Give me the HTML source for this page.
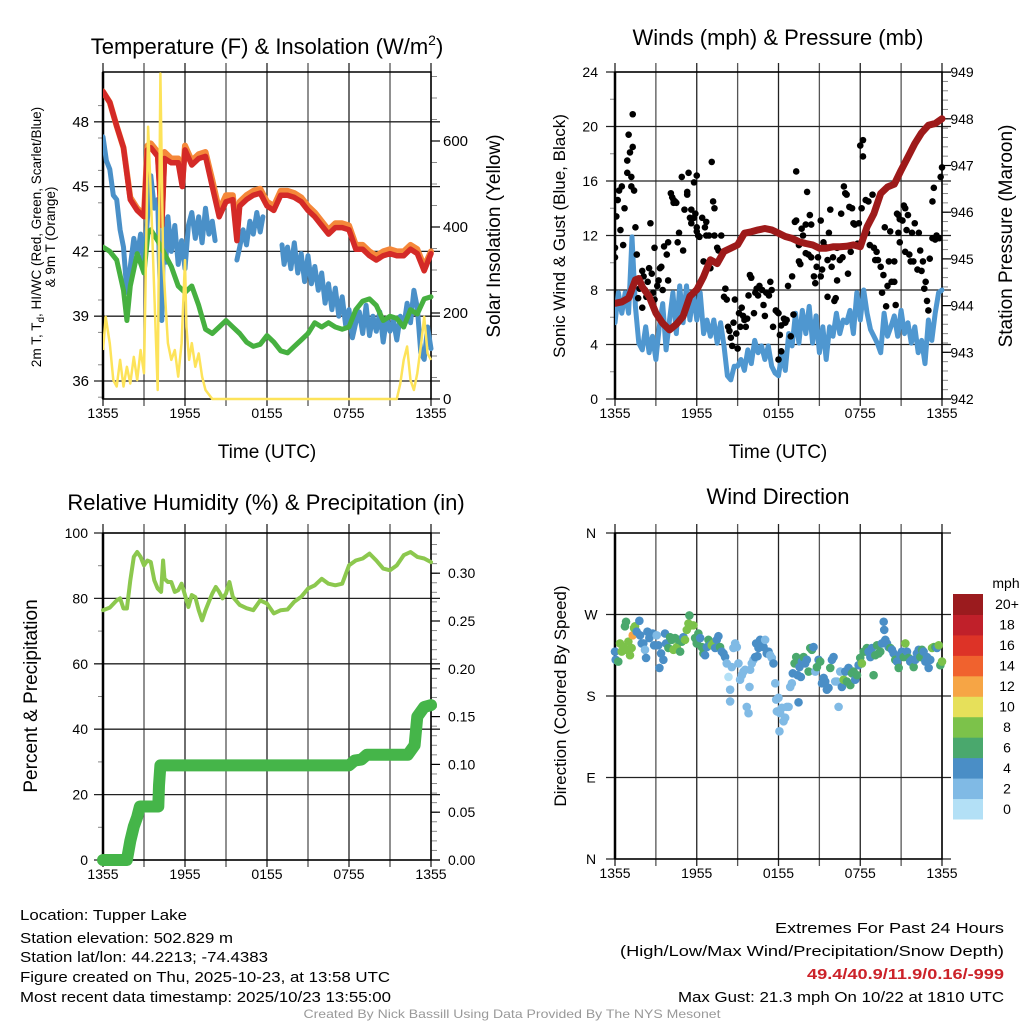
<!DOCTYPE html>
<html><head><meta charset="utf-8"><style>
html,body{margin:0;padding:0;background:#fff;}
svg{display:block;font-family:"Liberation Sans",Arial,sans-serif;}
</style></head><body>
<svg id="chart" width="1024" height="1024" viewBox="0 0 1024 1024" xmlns="http://www.w3.org/2000/svg"></svg>
<script>
// ---------- Panel 1 data: temperature & insolation ----------
const tRed=[0,0.5,1,1.5,2,2.5,3,3.25,3.5,4,4.3,4.5,5,5.5,5.8,6,6.5,7,7.5,8,8.5,9,9.5,9.8,10,10.5,11,11.5,12,12.5,13,13.5,14,14.5,15,15.5,16,16.5,17,17.5,18,18.5,19,19.5,20,20.5,21,21.5,22,22.5,23,23.5,24];
const temp2m=[49.4,48.9,47.8,46.8,44.4,43.9,43.6,46.7,46.8,46.4,43.2,46.3,46.1,46.1,45.0,46.7,46.0,46.3,46.4,45.0,43.6,44.3,44.4,42.5,44.1,44.4,44.6,44.7,44.1,43.9,44.6,44.6,44.5,44.3,43.9,43.6,43.2,42.8,43.1,43.1,43.0,42.1,42.1,41.8,41.6,41.8,41.9,41.8,41.8,42.1,41.9,41.1,41.9];
const temp9m=[49.4,48.9,47.8,46.8,44.5,44.0,43.7,46.9,47.0,46.6,43.4,46.6,46.3,46.3,45.2,46.9,46.2,46.5,46.6,45.3,43.9,44.6,44.6,42.8,44.3,44.6,44.8,44.9,44.3,44.1,44.8,44.8,44.7,44.5,44.1,43.8,43.4,43.0,43.3,43.3,43.2,42.3,42.3,42.0,41.8,42.0,42.1,42.0,42.0,42.3,42.1,41.3,42.0];
const tChill=[0,0.25,0.5,0.75,1,1.25,1.5,1.75,2,2.25,2.5,2.75,3,3.25,3.5,3.75,4,4.15,4.3,4.45,4.6,4.75,5,5.25,5.5,5.75,6,6.25,6.5,6.75,7,7.25,7.5,7.75,8,8.2,8.3,9.8,10,10.25,10.5,10.75,11,11.25,11.5,11.7,11.8,13.1,13.25,13.5,13.75,14,14.25,14.5,14.75,15,15.25,15.5,15.75,16,16.25,16.5,16.75,17,17.25,17.5,17.75,18,18.25,18.5,18.75,19,19.25,19.5,19.75,20,20.25,20.5,20.75,21,21.25,21.5,21.75,22,22.25,22.5,22.75,23,23.25,23.5,23.75,24];
const windChill=[47.3,46.2,45.8,44.6,44.4,43.0,42.2,40.1,41.3,42.6,41.8,42.8,41.3,43.5,45.5,44.0,44.4,41.0,38.8,43.5,41.5,43.6,42.0,43.2,41.4,42.5,41.2,43.2,43.8,42.6,43.6,42.4,44.0,42.8,43.4,42.5,null,41.6,42.2,43.0,42.3,43.4,42.8,43.8,42.9,43.6,null,42.3,41.4,42.2,41.2,42.4,41.0,41.9,40.6,41.8,40.5,41.3,40.2,41.0,39.6,40.5,39.3,40.3,39.0,39.9,38.6,39.3,38.0,38.7,39.2,38.2,39.5,38.1,39.0,38.3,39.2,37.8,38.9,38.3,38.8,37.9,39.0,38.5,39.6,38.7,40.2,39.4,37.3,37.0,38.5,37.5];
const tDew=[0,0.5,1,1.5,1.75,2,2.5,3,3.3,3.5,4,4.5,5,5.5,6,6.5,7,7.5,8,8.5,9,9.5,10,10.5,11,11.5,12,12.5,13,13.5,14,14.5,15,15.5,16,16.5,17,17.5,18,18.5,19,19.5,20,20.5,21,21.5,22,22.5,23,23.5,24];
const dewpoint=[42.2,42.0,41.6,40.2,38.8,40.4,41.9,41.0,42.9,43.0,42.5,41.9,41.3,40.4,40.1,40.4,39.5,38.4,38.2,38.5,38.8,38.5,38.2,37.8,37.6,37.7,38.1,37.8,37.4,37.3,37.6,37.9,38.2,38.7,38.5,38.7,38.5,38.4,38.5,39.3,39.7,39.8,39.5,38.8,39.0,38.9,38.5,39.3,39.1,39.8,39.9];
const tSolar=[0,0.2,0.5,0.75,1,1.25,1.5,1.75,2,2.25,2.5,2.75,3,3.1,3.3,3.5,3.75,4,4.2,4.4,4.6,4.75,5,5.25,5.5,5.75,6,6.1,6.3,6.5,6.75,7,7.25,7.5,8,12,16,21.5,21.75,22,22.25,22.5,22.75,23,23.25,23.5,23.75,24];
const solar=[114,191,129,44,29,91,29,75,36,98,44,114,60,246,633,478,246,21,757,323,207,130,91,114,52,130,323,168,91,130,75,106,52,21,0,0,0,0,36,91,122,44,21,60,122,191,106,91];
const tempTicks=[36,39,42,45,48];
const solarTicks=[0,200,400,600];
const timeTickLabels=["1355","1955","0155","0755","1355"];

// ---------- Panel 2 data: winds & pressure ----------
const tPres=[0,0.5,1,1.5,1.75,2,2.5,3,3.5,4,4.5,5,5.5,6,6.5,7,7.5,8,8.5,9,9.5,10,10.5,11,11.5,12,12.5,13,13.5,14,14.5,15,15.5,16,16.5,17,17.5,18,18.5,19,19.5,20,20.5,21,21.5,22,22.5,23,23.5,24];
const pressure=[944.05,944.08,944.16,944.55,944.58,944.4,944.2,943.84,943.62,943.48,943.6,943.77,944.2,944.34,944.62,944.98,944.9,945.16,945.23,945.3,945.55,945.58,945.62,945.65,945.62,945.55,945.48,945.44,945.37,945.33,945.3,945.23,945.23,945.26,945.26,945.27,945.3,945.26,945.69,945.97,946.4,946.54,946.6,946.9,947.18,947.47,947.7,947.86,947.9,948.0];
const sonicWind=[5.6,7.8,6.3,7.8,6.3,11.9,6.8,4.1,3.6,5.3,3.4,4.6,2.9,5.3,7.0,3.6,5.8,7.8,4.8,8.3,5.6,8.3,5.8,7.8,5.8,7.8,4.8,5.8,4.6,5.8,4.1,5.6,3.9,1.7,1.4,2.4,2.4,2.9,2.1,3.6,2.6,4.3,3.4,3.9,2.9,3.9,2.4,1.9,1.7,3.4,2.1,4.8,3.9,6.3,4.1,6.5,4.8,6.8,4.1,6.1,3.4,5.3,2.9,5.3,4.6,6.3,4.8,5.8,5.6,6.5,4.8,7.8,5.8,8.0,6.3,5.1,4.6,4.1,3.4,6.3,4.6,5.3,6.1,4.6,6.5,4.8,5.6,4.1,5.3,3.4,4.3,2.6,5.8,4.3,6.3,7.8,8.0];
const sonicStepHours=0.25;
const gustHours=[0,0,0.1,0.2,0.3,0.4,0.5,0.6,0.7,0.9,0.9,1.0,1.1,1.2,1.2,1.3,1.3,1.4,1.5,1.6,1.7,1.8,2.0,2.0,2.1,2.2,2.3,2.4,2.5,2.6,2.7,2.8,2.9,2.9,3.1,3.2,3.3,3.4,3.5,3.6,3.8,3.9,3.9,4.1,4.2,4.3,4.3,4.4,4.5,4.6,4.7,4.9,5.0,5.1,5.3,5.3,5.4,5.5,5.6,5.6,5.8,5.8,5.9,6.0,6.0,6.0,6.1,6.2,6.4,6.5,6.6,6.7,6.7,6.9,7.0,7.1,7.2,7.3,7.3,7.5,7.6,7.7,7.8,8.0,8.1,8.2,8.3,8.4,8.5,8.6,8.7,8.8,8.9,9.0,9.1,9.2,9.3,9.4,9.5,9.6,9.7,9.8,9.9,10.0,10.2,10.3,10.4,10.5,10.6,10.8,10.9,11.0,11.1,11.3,11.4,11.5,11.6,11.8,11.9,12.0,12.0,12.1,12.2,12.2,12.4,12.5,12.6,12.7,12.9,13.0,13.1,13.2,13.3,13.3,13.5,13.5,13.6,13.7,13.8,14.0,14.0,14.1,14.2,14.3,14.4,14.4,14.6,14.7,14.8,14.9,15.1,15.1,15.2,15.3,15.4,15.6,15.6,15.7,15.8,15.9,16.0,16.1,16.2,16.3,16.3,16.5,16.6,16.7,16.8,16.9,17.0,17.1,17.2,17.3,17.4,17.5,17.6,17.8,17.9,18.0,18.1,18.2,18.2,18.4,18.5,18.6,18.7,18.9,19.0,19.1,19.2,19.3,19.5,19.6,19.7,19.8,19.9,20.0,20.1,20.2,20.3,20.5,20.5,20.6,20.7,20.8,20.8,20.9,20.9,21.1,21.2,21.3,21.3,21.4,21.5,21.6,21.7,21.8,21.9,22.0,22.2,22.3,22.4,22.5,22.6,22.7,22.8,22.9,23.0,23.1,23.3,23.3,23.4,23.5,23.6,23.8,23.9,24];
const gustSpeed=[10.4,11.1,13.4,14.6,15.3,12.4,15.6,11.3,14.0,16.6,17.5,19.4,18.1,16.3,15.6,20.9,18.5,15.3,12.6,10.6,7.4,8.1,9.4,6.7,9.0,8.0,7.5,8.6,9.6,12.9,9.2,7.8,7.3,11.1,8.3,8.7,9.6,9.7,8.0,11.2,10.6,11.5,8.7,15.1,14.8,14.6,14.4,14.5,14.4,11.5,12.2,16.3,10.9,13.9,15.0,15.2,16.6,13.3,13.9,12.9,15.9,13.3,13.6,12.6,12.3,16.4,12.0,11.9,13.3,10.1,12.6,13.0,12.0,12.0,9.6,17.4,14.5,12.0,14.0,11.1,10.9,10.3,12.0,7.5,8.1,7.3,5.3,5.0,4.5,3.9,5.6,7.3,4.8,3.7,6.3,5.3,6.7,6.1,5.8,5.3,5.9,7.6,9.1,8.9,6.3,7.8,8.1,7.6,8.3,8.0,6.9,6.1,7.8,7.6,8.6,8.0,5.3,6.5,6.4,2.9,6.3,4.7,5.4,3.5,5.9,5.6,5.8,8.3,4.6,9.0,6.2,13.0,16.7,13.1,11.3,10.1,9.9,12.5,12.0,10.7,12.8,15.2,10.6,13.5,12.8,10.4,9.0,8.5,9.7,10.4,9.0,13.1,9.5,11.5,11.2,10.2,7.5,12.2,13.9,9.7,10.4,7.2,7.4,8.7,11.1,10.2,13.6,10.4,15.6,15.1,15.0,9.2,14.1,10.8,14.0,12.9,12.8,11.4,12.9,18.6,14.0,19.0,17.8,14.6,12.2,14.5,11.3,15.0,11.1,10.2,10.8,10.2,9.7,7.8,9.1,12.6,6.8,8.3,10.1,12.3,8.6,10.1,8.6,6.9,13.6,12.2,13.5,13.2,11.5,13.1,14.2,14.0,10.8,12.4,13.5,10.6,10.1,12.2,10.1,12.9,9.5,12.2,10.9,9.4,10.1,8.1,8.6,7.2,6.5,10.3,11.8,14.5,15.5,11.7,12.0,11.8,16.3,17.0];
const windTicks=[0,4,8,12,16,20,24];
const presTicks=[942,943,944,945,946,947,948,949];

// ---------- Panel 3 data: humidity & precipitation ----------
const tRH=[0,0.5,1,1.25,1.5,1.75,2,2.25,2.5,2.75,3,3.25,3.5,3.75,4,4.25,4.4,4.5,4.75,5,5.25,5.5,5.75,6,6.25,6.5,6.75,7,7.25,7.5,7.75,8,8.25,8.5,8.75,9,9.25,9.5,10,10.5,11,11.5,12,12.5,13,13.5,14,14.5,15,15.5,16,16.5,17,17.5,18,18.5,19,19.5,20,20.5,21,21.5,22,22.5,23,23.5,24];
const relHum=[76.4,77.2,79.4,80,76.9,76.9,85.5,92.7,94.2,92.7,90.1,91.6,91.1,85.5,83,82,91.6,86,85,85,82,82.5,84.5,81,77.4,81,80.4,76.4,73.3,76.4,79,81.5,83.5,82,80,81.5,85,80.5,78,77,76.4,79.4,78.4,75.4,76.4,76.6,79,80.5,83,84,86,84.5,84,84.5,90.1,91.6,92.2,93.7,91.6,89.1,88.6,90.1,93.2,94.2,92.7,92.2,91.1];
const tPrecip=[0,1.75,2.0,2.25,2.5,2.7,4.05,4.1,4.2,18.0,18.4,18.9,19.3,19.8,22.3,22.8,23.0,23.5,24];
const precip=[0,0,0.02,0.035,0.045,0.056,0.056,0.078,0.099,0.099,0.104,0.105,0.11,0.11,0.11,0.12,0.15,0.16,0.162];
const rhTicks=[0,20,40,60,80,100];
const precipTicks=["0.00","0.05","0.10","0.15","0.20","0.25","0.30"];

// ---------- Panel 4 data: wind direction ----------
const wdHours=[0,0.05,0.24,0.37,0.49,0.61,0.73,0.81,0.86,0.98,1.1,1.22,1.3,1.4,1.47,1.59,1.79,1.84,1.96,2.08,2.2,2.28,2.38,2.52,2.62,2.77,2.87,3.06,3.18,3.26,3.38,3.55,3.67,3.75,3.92,4.04,4.16,4.29,4.41,4.53,4.65,4.78,4.9,5.02,5.14,5.27,5.39,5.46,5.63,5.76,5.88,6.0,6.12,6.25,6.37,6.49,6.61,6.74,6.86,6.98,7.1,7.22,7.35,7.47,7.59,7.71,7.84,7.96,8.08,8.2,8.33,8.45,8.45,8.57,8.69,8.82,8.94,9.06,9.18,9.31,9.43,9.55,9.67,9.8,9.87,9.92,10.04,10.16,10.29,10.36,10.46,10.53,10.65,10.78,10.9,11.02,11.14,11.27,11.39,11.51,11.63,11.76,11.83,11.88,12.0,12.07,12.12,12.25,12.37,12.49,12.61,12.74,12.86,12.98,13.05,13.18,13.3,13.4,13.47,13.54,13.64,13.72,13.84,13.96,14.08,14.21,14.33,14.45,14.57,14.7,14.82,14.94,15.06,15.19,15.31,15.43,15.55,15.67,15.8,15.92,16.04,16.16,16.29,16.41,16.53,16.65,16.78,16.9,17.02,17.14,17.27,17.39,17.51,17.63,17.76,17.88,18.0,18.12,18.25,18.37,18.49,18.61,18.74,18.86,18.98,19.1,19.23,19.35,19.47,19.59,19.72,19.76,19.84,19.96,20.08,20.21,20.33,20.45,20.57,20.7,20.82,20.94,21.06,21.19,21.31,21.43,21.55,21.67,21.8,21.92,22.04,22.16,22.29,22.41,22.53,22.65,22.78,22.9,23.02,23.14,23.27,23.39,23.51,23.63,23.76,23.88,24.0];
const wdDeg=[229,220,218,238,229,234,257,262,231,240,225,233,247,255,257,251,263,247,238,238,231,222,251,244,249,249,236,247,236,211,227,220,249,238,233,245,242,231,244,234,242,229,240,245,242,253,260,269,258,258,244,238,249,244,234,227,225,234,242,236,236,238,233,242,246,234,229,227,223,216,201,187,174,212,233,238,234,216,198,203,207,209,168,161,190,209,216,220,223,238,224,233,242,236,234,242,227,229,225,222,216,194,176,163,178,141,161,167,152,156,168,168,190,194,205,216,223,203,173,212,201,218,223,216,220,207,233,231,234,207,212,220,218,194,200,196,187,189,211,220,223,196,196,168,207,190,198,207,196,211,192,205,207,198,203,214,222,216,229,229,233,229,223,233,203,225,236,227,229,238,262,253,242,238,234,233,231,227,220,218,211,225,229,223,238,229,222,218,220,212,220,227,231,223,231,229,218,223,211,220,233,234,234,233,236,214,218];
const wdSpeed=[4.5,4.5,6.5,8.5,8.5,8.5,6.5,6.5,8.5,8.5,8.5,8.5,12.5,8.5,8.5,4.5,4.5,4.5,4.5,4.5,2.5,4.5,4.5,4.5,4.5,4.5,4.5,2.5,4.5,4.5,4.5,4.5,4.5,4.5,6.5,6.5,6.5,8.5,6.5,8.5,6.5,6.5,6.5,4.5,8.5,8.5,8.5,6.5,8.5,8.5,6.5,6.5,6.5,4.5,6.5,6.5,4.5,4.5,6.5,4.5,8.5,8.5,4.5,4.5,4.5,6.5,4.5,4.5,4.5,2.5,0.8,2.5,2.5,2.5,2.5,2.5,2.5,2.5,2.5,2.5,2.5,2.5,2.5,2.5,2.5,2.5,2.5,2.5,4.5,4.5,4.5,4.5,4.5,4.5,4.5,2.5,4.5,4.5,2.5,2.5,4.5,2.5,2.5,2.5,2.5,2.5,2.5,2.5,2.5,2.5,2.5,2.5,2.5,2.5,4.5,6.5,6.5,4.5,4.5,4.5,4.5,4.5,6.5,4.5,4.5,6.5,6.5,6.5,4.5,2.5,6.5,4.5,6.5,4.5,4.5,4.5,4.5,4.5,6.5,4.5,4.5,2.5,2.5,2.5,2.5,4.5,8.5,4.5,6.5,4.5,6.5,6.5,6.5,4.5,6.5,4.5,6.5,8.5,6.5,6.5,6.5,4.5,4.5,4.5,6.5,6.5,6.5,6.5,6.5,4.5,4.5,4.5,4.5,4.5,4.5,6.5,4.5,4.5,6.5,4.5,6.5,4.5,4.5,6.5,8.5,4.5,6.5,4.5,4.5,6.5,4.5,4.5,4.5,6.5,6.5,4.5,4.5,4.5,4.5,4.5,8.5,8.5,6.5,4.5,8.5,6.5,8.5];
const dirTicks=[0,90,180,270,360];
const dirLabels=["N","E","S","W","N"];
const cbarLabels=["0","2","4","6","8","10","12","14","16","18","20+"];
const cbarColors=["#b3e0f6","#80bae5","#4a8ec6","#4aa86d","#7cc24a","#e6e05a","#f6a545","#f0622e","#dd3327","#c0202a","#9b1b1e"];

// ---------- helpers ----------
const NS="http://www.w3.org/2000/svg";
const svg=document.getElementById('chart');
function mk(tag,attrs,parent){const e=document.createElementNS(NS,tag);for(const k in attrs)e.setAttribute(k,attrs[k]);(parent||svg).appendChild(e);return e;}
function txt(s,attrs,parent){const e=mk('text',attrs,parent);e.textContent=s;return e;}
function pathD(ts,vs,xf,yf){let d='',pen=false;for(let i=0;i<ts.length;i++){if(vs[i]===null||vs[i]===undefined){pen=false;continue;}d+=(pen?'L':'M')+xf(ts[i]).toFixed(1)+' '+yf(vs[i]).toFixed(1);pen=true;}return d;}
function xScale(x0,x1){return h=>x0+h*(x1-x0)/24;}
function gridPanel(name,x0,x1,y0,y1,hY,minorL,minorR){
  const g=mk('g',{},svg);
  
  
  for(let i=0;i<=8;i++){const x=x0+i*(x1-x0)/8;
    const v=mk('line',{x1:x,y1:y0-9,x2:x,y2:y1+7,stroke:(i%2?'#555':'#222'),'stroke-width':1.3},g);
    
    }
  hY.forEach(y=>{const h=mk('line',{x1:x0-9,y1:y,x2:x1+9,y2:y,stroke:'#222','stroke-width':1.3},g);
    
    });
  minorL.forEach(y=>{const t=mk('line',{x1:x0-5,y1:y,x2:x0,y2:y,stroke:'#888','stroke-width':1},g);
    
    });
  minorR.forEach(y=>{const t=mk('line',{x1:x1,y1:y,x2:x1+6,y2:y,stroke:'#888','stroke-width':1},g);
    
    });
  const f=mk('rect',{x:x0,y:y0,width:x1-x0,height:y1-y0,fill:'none',stroke:'#000','stroke-width':1.5},g);
  
  
  const lb=mk('line',{x1:x0,y1:y0,x2:x0,y2:y1,stroke:'#000','stroke-width':2.5},g);
  
  
  for(let i=0;i<5;i++){const x=x0+i*(x1-x0)/4;
    const t=txt(timeTickLabels[i],{x:x,y:y1+19,'font-size':14,'text-anchor':'middle',fill:'#000'},g);
    
    }
  return g;
}
function title(s,x,y,size,name){const t=txt(s,{x:x,y:y,'font-size':size,'text-anchor':'middle',fill:'#000'});
  
  return t;}
function vtitle(s,x,y,size,name){const t=txt(s,{x:x,y:y,'font-size':size,'text-anchor':'middle',fill:'#000',transform:'rotate(-90 '+x+' '+y+')'});
  
  return t;}
function speedColor(s){let i=Math.floor(s/2);if(i>10)i=10;if(i<0)i=0;return cbarColors[i];}

// ---------- Panel 1 ----------
(function(){
  const x0=103,x1=431,y0=72,y1=399;
  const xs=xScale(x0,x1);
  const yT=v=>381-(v-36)*21.6;
  const yS=w=>399-w*0.43;
  const minorL=[],minorR=[];
  for(let v=35.25;v<50;v+=1.5)minorL.push(yT(v));
  for(let w=50;w<760;w+=50)minorR.push(yS(w));
  gridPanel('temperature-panel',x0,x1,y0,y1,tempTicks.map(yT),minorL,minorR);
  tempTicks.forEach(v=>{const t=txt(String(v),{x:89,y:yT(v)+5,'font-size':15,'text-anchor':'end'});
    
    });
  solarTicks.forEach(w=>{const k=mk('line',{x1:x1,y1:yS(w),x2:x1+9,y2:yS(w),stroke:'#000','stroke-width':1.2});
    
    
    const t=txt(String(w),{x:443,y:yS(w)+5,'font-size':15});
    
    });
  const cl=mk('clipPath',{id:'clip1'});mk('rect',{x:x0,y:y0-2,width:x1-x0+4,height:y1-y0+4},cl);
  const g=mk('g',{'clip-path':'url(#clip1)'});
  
  
  const lo=mk('path',{d:pathD(tRed,temp9m,xs,yT),fill:'none',stroke:'#f5883a','stroke-width':6,'stroke-linejoin':'round','stroke-linecap':'round'},g);
  
  
  const lb=mk('path',{d:pathD(tChill,windChill,xs,yT),fill:'none',stroke:'#4a90c8','stroke-width':5,'stroke-linejoin':'round','stroke-linecap':'round'},g);
  
  
  const lg=mk('path',{d:pathD(tDew,dewpoint,xs,yT),fill:'none',stroke:'#46b040','stroke-width':5,'stroke-linejoin':'round','stroke-linecap':'round'},g);
  
  
  const lr=mk('path',{d:pathD(tRed,temp2m,xs,yT),fill:'none',stroke:'#d42a27','stroke-width':5.5,'stroke-linejoin':'round','stroke-linecap':'round'},g);
  
  
  const ly=mk('path',{d:pathD(tSolar,solar,xs,yS),fill:'none',stroke:'#fde35a','stroke-width':2.5,'stroke-linejoin':'round'},g);
  
  
  const tt=txt('',{x:267,y:54,'font-size':22,'text-anchor':'middle'});
  
  
  tt.innerHTML='Temperature (F) &amp; Insolation (W/m<tspan dy="-9" font-size="14">2</tspan><tspan dy="9">)</tspan>';
  title('Time (UTC)',267,458,19,'time-axis-title-1');
  const lt=txt('',{x:41,y:237,'font-size':13.5,'text-anchor':'middle',transform:'rotate(-90 41 237)'});
  
  
  lt.innerHTML='2m T, T<tspan font-size="10" dy="3">d</tspan><tspan dy="-3">, HI/WC (Red, Green, Scarlet/Blue)</tspan>';
  vtitle('& 9m T (Orange)',55,237,13.5,'temperature-axis-title-line2');
  vtitle('Solar Insolation (Yellow)',500,236,19,'solar-axis-title');
})();

// ---------- Panel 2 ----------
(function(){
  const x0=615,x1=942,y0=72,y1=399;
  const xs=xScale(x0,x1);
  const yW=v=>399-v*13.625;
  const yP=p=>399-(p-942)*46.7;
  const minorL=[],minorR=[];
  for(let v=2;v<24;v+=4)minorL.push(yW(v));
  for(let p=942.2;p<949;p+=0.2)minorR.push(yP(p));
  gridPanel('wind-panel',x0,x1,y0,y1,windTicks.map(yW),minorL,minorR);
  windTicks.forEach(v=>{const t=txt(String(v),{x:598,y:yW(v)+5,'font-size':14,'text-anchor':'end'});
    
    });
  presTicks.forEach(p=>{const k=mk('line',{x1:x1,y1:yP(p),x2:x1+9,y2:yP(p),stroke:'#000','stroke-width':1.2});
    
    
    const t=txt(String(p),{x:962,y:yP(p)+5,'font-size':14,'text-anchor':'middle'});
    
    });
  const cl=mk('clipPath',{id:'clip2'});mk('rect',{x:x0,y:y0-2,width:x1-x0+4,height:y1-y0+4},cl);
  const g=mk('g',{'clip-path':'url(#clip2)'});
  
  
  const tS=sonicWind.map((v,i)=>i*sonicStepHours);
  const ls=mk('path',{d:pathD(tS,sonicWind,xs,yW),fill:'none',stroke:'#4f97d0','stroke-width':5,'stroke-linejoin':'round','stroke-linecap':'round'},g);
  
  
  for(let i=0;i<gustHours.length;i++){
    const c=mk('circle',{cx:xs(gustHours[i]),cy:yW(gustSpeed[i]),r:3.3,fill:'#000'},g);
    
    
  }
  const lp=mk('path',{d:pathD(tPres,pressure,xs,yP),fill:'none',stroke:'#9e1a1a','stroke-width':7,'stroke-linejoin':'round','stroke-linecap':'round'},g);
  
  
  title('Winds (mph) & Pressure (mb)',778,45,22,'wind-panel-title');
  title('Time (UTC)',778,458,19,'time-axis-title-2');
  vtitle('Sonic Wind & Gust (Blue, Black)',565,236,17,'wind-axis-title');
  vtitle('Station Pressure (Maroon)',1012,236,19,'pressure-axis-title');
})();

// ---------- Panel 3 ----------
(function(){
  const x0=103,x1=431,y0=533,y1=860;
  const xs=xScale(x0,x1);
  const yR=v=>860-v*3.27;
  const yPr=p=>860-p*956;
  const minorL=[],minorR=[];
  for(let v=10;v<100;v+=20)minorL.push(yR(v));
  for(let p=0.01;p<0.34;p+=0.01)minorR.push(yPr(p));
  gridPanel('humidity-panel',x0,x1,y0,y1,rhTicks.map(yR),minorL,minorR);
  rhTicks.forEach(v=>{const t=txt(String(v),{x:88,y:yR(v)+5,'font-size':14,'text-anchor':'end'});
    
    });
  precipTicks.forEach(s=>{const p=parseFloat(s);
    const k=mk('line',{x1:x1,y1:yPr(p),x2:x1+9,y2:yPr(p),stroke:'#000','stroke-width':1.2});
    
    
    const t=txt(s,{x:448,y:yPr(p)+5,'font-size':14});
    
    });
  const g=mk('g',{});
  
  
  const lr=mk('path',{d:pathD(tRH,relHum,xs,yR),fill:'none',stroke:'#8cc84e','stroke-width':4,'stroke-linejoin':'round','stroke-linecap':'round'},g);
  
  
  const lp=mk('path',{d:pathD(tPrecip,precip,xs,yPr),fill:'none',stroke:'#45b549','stroke-width':12,'stroke-linejoin':'round','stroke-linecap':'round'},g);
  
  
  title('Relative Humidity (%) & Precipitation (in)',266,510,22,'humidity-panel-title');
  vtitle('Percent & Precipitation',37,696,19,'humidity-axis-title');
})();

// ---------- Panel 4 ----------
(function(){
  const x0=615,x1=942,y0=533,y1=859;
  const xs=xScale(x0,x1);
  const yD=d=>859-d*(326/360);
  gridPanel('direction-panel',x0,x1,y0,y1,dirTicks.map(yD),[],[]);
  dirTicks.forEach((d,i)=>{const t=txt(dirLabels[i],{x:591,y:yD(d)+5,'font-size':14,'text-anchor':'middle'});
    
    });
  const g=mk('g',{});
  
  
  for(let i=0;i<wdHours.length;i++){
    const c=mk('circle',{cx:xs(wdHours[i]),cy:yD(wdDeg[i]),r:4.3,fill:speedColor(wdSpeed[i])},g);
    
    
  }
  const cb=mk('g',{});
  
  
  const bh=225/11;
  for(let i=0;i<11;i++){
    const y=819-(i+1)*bh;
    const r=mk('rect',{x:953,y:y,width:30,height:bh+0.5,fill:cbarColors[i]},cb);
    
    
    const t=txt(cbarLabels[i],{x:1007,y:y+bh/2+5,'font-size':14,'text-anchor':'middle'},cb);
    
    
  }
  const m=txt('mph',{x:1006,y:588,'font-size':14,'text-anchor':'middle'},cb);
  
  
  title('Wind Direction',778,504,22,'direction-panel-title');
  vtitle('Direction (Colored By Speed)',566,696,17,'direction-axis-title');
})();

// ---------- footer ----------
(function(){
  const left=[["Location: Tupper Lake",920,167],["Station elevation: 502.829 m",943,213],["Station lat/lon: 44.2213; -74.4383",962,248],["Figure created on Thu, 2025-10-23, at 13:58 UTC",982,370],["Most recent data timestamp: 2025/10/23 13:55:00",1002,371]];
  left.forEach(r=>{const t=txt(r[0],{x:20,y:r[1],'font-size':15,textLength:r[2],lengthAdjust:'spacingAndGlyphs'});
    
    });
  const right=[["Extremes For Past 24 Hours",933,229,'#000','normal'],["(High/Low/Max Wind/Precipitation/Snow Depth)",956,384,'#000','normal'],["49.4/40.9/11.9/0.16/-999",979,197,'#cc2229','bold'],["Max Gust: 21.3 mph On 10/22 at 1810 UTC",1002,326,'#000','normal']];
  right.forEach(r=>{const t=txt(r[0],{x:1004,y:r[1],'font-size':15,'text-anchor':'end',fill:r[3],'font-weight':r[4],textLength:r[2],lengthAdjust:'spacingAndGlyphs'});
    
    });
  const c=txt('Created By Nick Bassill Using Data Provided By The NYS Mesonet',{x:512,y:1018,'font-size':12,'text-anchor':'middle',fill:'#999',textLength:417,lengthAdjust:'spacingAndGlyphs'});
  
  
})();
</script>
</body></html>
